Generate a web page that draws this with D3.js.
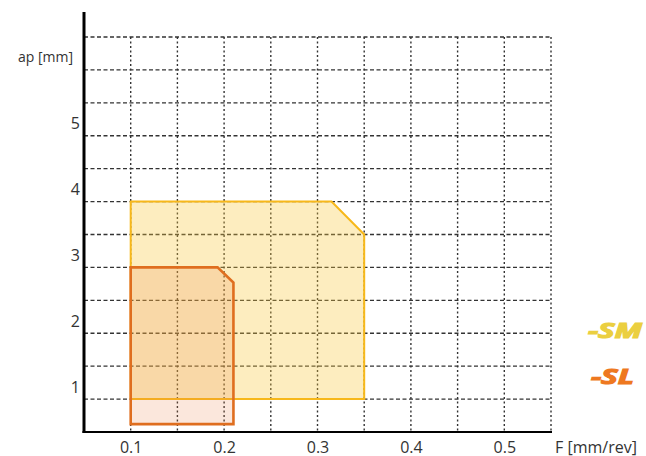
<!DOCTYPE html>
<html>
<head>
<meta charset="utf-8">
<script src="https://cdn.jsdelivr.net/npm/d3@7"></script>
<style>
  html, body { margin: 0; padding: 0; background: #fff; }
  svg { display: block; }
  text { font-family: "Open Sans", "Liberation Sans", sans-serif; }
</style>
</head>
<body>
<svg id="chart" width="646" height="456"></svg>
<script>
// ---- data ----
const fTicks = [0.1, 0.2, 0.3, 0.4, 0.5];
const apTicks = [1, 2, 3, 4, 5];
const fGrid = [0.1, 0.15, 0.2, 0.25, 0.3, 0.35, 0.4, 0.45, 0.5, 0.55];
const apGrid = [1, 1.5, 2, 2.5, 3, 3.5, 4, 4.5, 5, 5.5, 6, 6.5];
const smF = [0.1, 0.1, 0.315, 0.35, 0.35];
const smAp = [1, 4, 4, 3.5, 1];
const slF = [0.1, 0.1, 0.193, 0.21, 0.21];
const slAp = [0.62, 3, 3, 2.77, 0.62];
const legendLabels = ["-SM", "-SL"];
const xTitle = "F [mm/rev]";
const yTitle = "ap [mm]";

// ---- drawing ----
const svg = d3.select("#chart");
const x = d3.scaleLinear().domain([0.05, 0.55]).range([84, 551]);
const y = d3.scaleLinear().domain([0.5, 6.5]).range([432, 37]);

// grid
svg.append("g").selectAll("line").data(apGrid).join("line")
  .attr("x1", x(0.05)).attr("x2", x(0.55))
  .attr("y1", d => y(d)).attr("y2", d => y(d))
  .attr("stroke", "#333").attr("stroke-width", 1.4)
  .attr("stroke-dasharray", "4,2.5");
svg.append("g").selectAll("line").data(fGrid).join("line")
  .attr("x1", d => x(d)).attr("x2", d => x(d))
  .attr("y1", y(6.5)).attr("y2", y(0.5))
  .attr("stroke", "#333").attr("stroke-width", 1.4)
  .attr("stroke-dasharray", "2,2.5");

const line = d3.line().x(d => x(d[0])).y(d => y(d[1]));
const smPts = smF.map((f, i) => [f, smAp[i]]);
const slPts = slF.map((f, i) => [f, slAp[i]]);

svg.append("path").datum(smPts)
  .attr("d", d => line(d) + "Z")
  .attr("fill", "rgb(250,200,60)").attr("fill-opacity", 0.33)
  .attr("stroke", "#F7B81A").attr("stroke-width", 2);
svg.append("path").datum(slPts)
  .attr("d", d => line(d) + "Z")
  .attr("fill", "rgb(235,120,60)").attr("fill-opacity", 0.18)
  .attr("stroke", "#DF6E1F").attr("stroke-width", 2.6)
  .attr("stroke-linejoin", "miter");

// axes lines
svg.append("line").attr("x1", x(0.05)).attr("x2", x(0.05))
  .attr("y1", 12).attr("y2", y(0.5) + 1)
  .attr("stroke", "#000").attr("stroke-width", 3);
svg.append("line").attr("x1", x(0.05) - 1.5).attr("x2", x(0.55) + 1)
  .attr("y1", y(0.5)).attr("y2", y(0.5))
  .attr("stroke", "#000").attr("stroke-width", 2.2);

// tick labels via d3 axes
const xAxis = svg.append("g").attr("transform", `translate(0,${y(0.5)})`)
  .call(d3.axisBottom(x).tickValues(fTicks).tickSize(0).tickFormat(d3.format(".1f")));
xAxis.select(".domain").remove();
xAxis.selectAll("text").attr("y", 20.5).attr("dy", 0)
  .attr("font-size", 16).attr("fill", "#333").attr("font-family", "Open Sans");

const yAxis = svg.append("g").attr("transform", `translate(80,0)`)
  .call(d3.axisLeft(y).tickValues(apTicks).tickSize(0).tickFormat(d3.format("d")));
yAxis.select(".domain").remove();
yAxis.selectAll("text").attr("x", 0).attr("dy", -7)
  .attr("font-size", 16).attr("fill", "#333").attr("font-family", "Open Sans");

svg.append("text").attr("x", 555).attr("y", 452.5)
  .attr("font-size", 16).attr("fill", "#333").text(xTitle);
svg.append("text").attr("x", 73).attr("y", 62).attr("text-anchor", "end")
  .attr("font-size", 14).attr("fill", "#333").text(yTitle);

// legend
const legColors = ["#EBCF40", "#EE7820"];
const legPos = [[588, 338, 54], [591, 384, 43]];
svg.append("g").selectAll("text").data(legendLabels).join("text")
  .attr("x", (d, i) => legPos[i][0]).attr("y", (d, i) => legPos[i][1])
  .attr("textLength", (d, i) => legPos[i][2]).attr("lengthAdjust", "spacingAndGlyphs")
  .attr("font-family", "Liberation Sans").attr("font-weight", "bold").attr("font-style", "italic")
  .attr("font-size", 21).attr("fill", (d, i) => legColors[i])
  .attr("stroke", (d, i) => legColors[i]).attr("stroke-width", 1.2)
  .text(d => d);
</script>
</body>
</html>
